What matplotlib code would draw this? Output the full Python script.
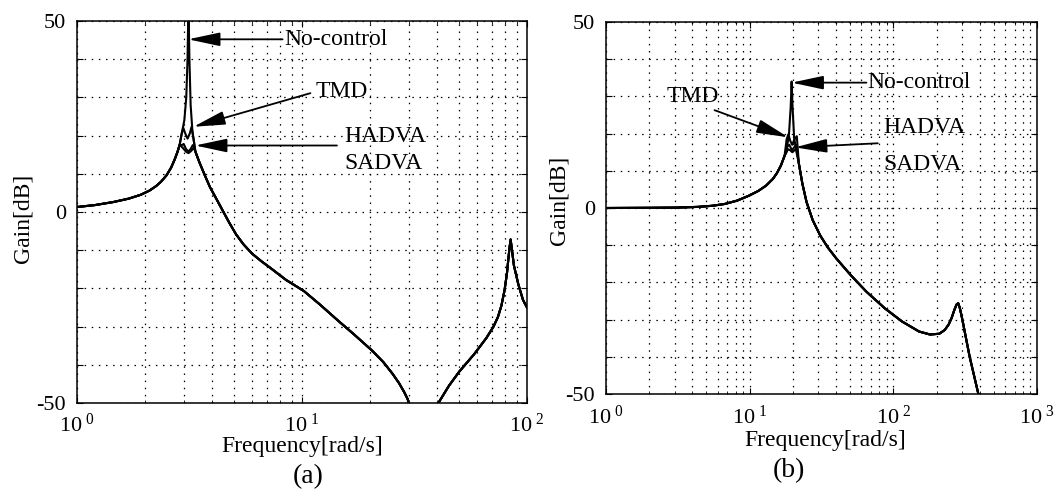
# frequency response (gain) of the structure with no control / TMD / HADVA / SADVA
# two panels: (a) and (b), log frequency axis, gain in dB

import numpy as np
import matplotlib
matplotlib.use('Agg')
import matplotlib.pyplot as plt
from matplotlib.ticker import FixedLocator, FuncFormatter, LogLocator, NullFormatter

plt.rcParams['font.family'] = ['Liberation Serif', 'DejaVu Serif']
plt.rcParams['mathtext.fontset'] = 'custom'
plt.rcParams['mathtext.rm'] = 'Liberation Serif'
plt.rcParams['mathtext.it'] = 'Liberation Serif'

# ---- panel (a) data ----
freq_a_low = [1.0, 1.2, 1.45, 1.7, 1.92, 2.1, 2.25, 2.37, 2.5, 2.62, 2.72, 2.8, 2.86]
gain_a_low = [1.3, 1.8, 2.6, 3.5, 4.5, 5.6, 6.8, 8.0, 9.6, 11.6, 13.8, 15.8, 17.6]

freq_a_none = [2.92, 3.0, 3.06, 3.1, 3.13, 3.16, 3.2, 3.26, 3.36]
gain_a_none = [20.5, 24.0, 30.0, 40.0, 55.0, 40.0, 28.0, 21.0, 15.8]
freq_a_tmd = [2.92, 2.97, 3.03, 3.1, 3.17, 3.23, 3.29, 3.36]
gain_a_tmd = [20.5, 22.0, 20.5, 19.2, 20.5, 22.3, 19.5, 15.8]
freq_a_hadva = [2.92, 2.98, 3.05, 3.13, 3.2, 3.27, 3.32, 3.36]
gain_a_hadva = [17.5, 17.8, 16.5, 15.8, 16.5, 17.5, 17.0, 15.8]
freq_a_sadva = [2.95, 3.05, 3.13, 3.22, 3.3, 3.36]
gain_a_sadva = [16.8, 15.8, 15.4, 16.0, 16.8, 15.8]

freq_a_tail = [3.5, 3.7, 3.9, 4.14, 4.43, 4.75, 5.1, 5.5, 6.0, 6.6, 7.22, 8.5,
               10.2, 12, 14.5, 17, 20.5, 23, 25.3, 27.0, 28.5, 29.5, 30.5,
               38, 40.4, 45, 50, 58.3, 66, 71, 74.3, 77, 79.5, 81.5, 82.6,
               83.6, 84.6, 85.8, 87.5, 91.6, 96, 100]
gain_a_tail = [13.0, 9.6, 6.5, 3.7, 0.5, -2.8, -5.9, -8.5, -10.9, -12.9, -14.6,
               -17.8, -20.7, -24.2, -28.5, -32.0, -36.3, -39.3, -42.4, -44.8,
               -47.2, -49.0, -52.0, -55.0, -50.0, -45.5, -41.8, -37.2, -33.0,
               -30.0, -27.5, -24.5, -20.5, -16.0, -12.5, -9.5, -7.2, -10.0,
               -14.0, -19.0, -23.0, -25.0]

# ---- panel (b) data ----
freq_b_low = [1.0, 2.0, 3.0, 4.36, 5.5, 6.74, 8.2, 9.88, 11.5, 13.0, 14.5,
              15.5, 16.5, 17.5]
gain_b_low = [0.0, 0.05, 0.1, 0.3, 0.6, 1.1, 2.0, 3.3, 4.6, 6.0, 7.8, 9.4,
              11.4, 14.0]

freq_b_none = [18.0, 18.8, 19.3, 19.6, 19.9, 20.4, 21.2]
gain_b_none = [15.0, 20.0, 27.0, 34.0, 27.0, 19.0, 14.9]
freq_b_tmd = [18.1, 18.6, 19.2, 19.8, 20.5, 21.3]
gain_b_tmd = [18.5, 19.8, 18.0, 17.0, 18.5, 19.3]
freq_b_hadva = [18.3, 18.9, 19.7, 20.4, 21.1]
gain_b_hadva = [16.5, 17.0, 15.5, 16.3, 17.0]
freq_b_sadva = [18.5, 19.2, 19.8, 20.5, 21.3]
gain_b_sadva = [15.8, 15.5, 15.0, 15.5, 16.0]

freq_b_tail = [22, 23.3, 24.9, 27.5, 31, 35, 40, 50.7, 65, 87.5, 115, 151,
               180, 209, 228, 243, 255, 266, 276, 283, 290, 298, 306, 340,
               392, 420]
gain_b_tail = [12.0, 6.5, 1.6, -3.3, -7.4, -10.6, -13.5, -18.1, -22.5, -27.0,
               -30.5, -33.2, -34.0, -33.8, -32.8, -31.3, -29.5, -27.4, -25.9,
               -25.6, -26.8, -28.8, -31.0, -40.0, -50.2, -56.0]

y_ticks = list(range(-50, 51, 10))
y_labels = {-50: '-50', 0: '0', 50: '50'}


def setup_axes(ax, xmax):
    ax.set_xscale('log')
    ax.set_xlim(1, xmax)
    ax.set_ylim(-50, 50)
    ax.yaxis.set_major_locator(FixedLocator(y_ticks))
    ax.yaxis.set_major_formatter(FuncFormatter(lambda v, p: y_labels.get(int(round(v)), '')))
    ax.xaxis.set_major_locator(LogLocator(base=10))
    ax.xaxis.set_minor_locator(LogLocator(base=10, subs=np.arange(2, 10)))
    ax.xaxis.set_minor_formatter(NullFormatter())
    ax.xaxis.set_major_formatter(FuncFormatter(lambda v, p: r'$10^{\ %d}$' % int(round(np.log10(v)))))
    ax.grid(True, which='both', color='k', linestyle=(0, (1.2, 4.5)), linewidth=0.9)
    ax.set_axisbelow(True)
    ax.tick_params(which='both', direction='in', top=True, right=True, labelsize=16, pad=8)
    ax.tick_params(which='major', length=4)
    ax.tick_params(which='minor', length=2)
    for s in ax.spines.values():
        s.set_linewidth(1.1)


def draw_curves(ax, low_f, low_g, peaks, tail_f, tail_g):
    for pf, pg in peaks:
        f = low_f + pf + tail_f
        g = low_g + pg + tail_g
        ax.plot(f, g, color='k', lw=1.5)


arrow = dict(arrowstyle='-|>,head_length=1.5,head_width=0.32', color='k', lw=1.3,
             shrinkA=0, shrinkB=0, mutation_scale=13)

fig = plt.figure(figsize=(10.59, 4.90), dpi=100)

# ---- (a) ----
ax1 = fig.add_axes([0.0727, 0.1776, 0.4249, 0.7796])
setup_axes(ax1, 100)
draw_curves(ax1, freq_a_low, gain_a_low,
            [(freq_a_none, gain_a_none), (freq_a_tmd, gain_a_tmd),
             (freq_a_hadva, gain_a_hadva), (freq_a_sadva, gain_a_sadva)],
            freq_a_tail, gain_a_tail)
ax1.set_xlabel('Frequency[rad/s]', fontsize=17, va='center')
ax1.xaxis.set_label_coords(0.5, -0.115)
ax1.set_ylabel('Gain[dB]', fontsize=17, va='center')
ax1.yaxis.set_label_coords(-0.12, 0.484)

ax1.annotate('', xy=(3.12, 45.2), xytext=(8.2, 45.2), arrowprops=arrow)
ax1.text(8.35, 45.2, 'No-control', fontsize=17, va='center', ha='left')
ax1.annotate('', xy=(3.29, 22.3), xytext=(10.9, 31.1), arrowprops=arrow)
ax1.text(11.5, 31.6, 'TMD', fontsize=17, va='center', ha='left')
ax1.annotate('', xy=(3.35, 17.4), xytext=(14.3, 17.4), arrowprops=arrow)
ax1.text(15.5, 19.8, 'HADVA', fontsize=17, va='center', ha='left')
ax1.text(15.5, 12.6, 'SADVA', fontsize=17, va='center', ha='left')

# ---- (b) ----
ax2 = fig.add_axes([0.5722, 0.1959, 0.4070, 0.7592])
setup_axes(ax2, 1000)
draw_curves(ax2, freq_b_low, gain_b_low,
            [(freq_b_none, gain_b_none), (freq_b_tmd, gain_b_tmd),
             (freq_b_hadva, gain_b_hadva), (freq_b_sadva, gain_b_sadva)],
            freq_b_tail, gain_b_tail)
ax2.set_xlabel('Frequency[rad/s]', fontsize=17, va='center')
ax2.xaxis.set_label_coords(0.508, -0.126)
ax2.set_ylabel('Gain[dB]', fontsize=17, va='center')
ax2.yaxis.set_label_coords(-0.109, 0.52)

ax2.annotate('', xy=(19.6, 33.7), xytext=(65, 33.7), arrowprops=arrow)
ax2.text(66, 33.7, 'No-control', fontsize=17, va='center', ha='left')
ax2.annotate('', xy=(18.6, 19.0), xytext=(5.7, 26.3), arrowprops=arrow)
ax2.text(2.64, 29.9, 'TMD', fontsize=17, va='center', ha='left')
ax2.annotate('', xy=(20.7, 16.3), xytext=(78, 17.4), arrowprops=arrow)
ax2.text(85, 21.6, 'HADVA', fontsize=17, va='center', ha='left')
ax2.text(85, 11.6, 'SADVA', fontsize=17, va='center', ha='left')

fig.text(308 / 1059, 1 - 477 / 490, '(a)', fontsize=20, ha='center', va='center')
fig.text(789 / 1059, 1 - 471 / 490, '(b)', fontsize=20, ha='center', va='center')

fig.savefig('out.png', dpi=100)
